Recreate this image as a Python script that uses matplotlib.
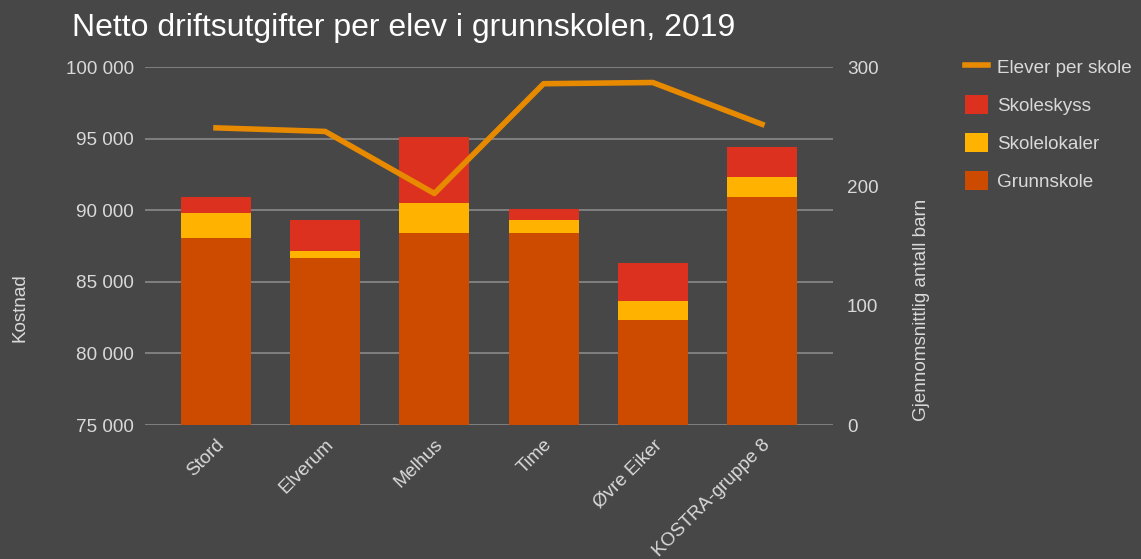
import matplotlib
matplotlib.use('Agg')
import matplotlib.pyplot as plt
import matplotlib.ticker as mticker
import numpy as np

plt.rcParams['font.family'] = ['Liberation Sans', 'DejaVu Sans']

# data
kommuner = ['Stord', 'Elverum', 'Melhus', 'Time', 'Øvre Eiker', 'KOSTRA-gruppe 8']
grunnskole = [88070, 86660, 88400, 88400, 82360, 90940]
skolelokaler = [1740, 470, 2120, 950, 1290, 1410]
skoleskyss = [1130, 2220, 4620, 700, 2630, 2080]
elever_per_skole = [249, 246, 194, 286, 287, 252]

bg = '#474747'
txt = '#d9d9d9'
c_grunn = '#cc4b00'
c_lokal = '#ffb300'
c_skyss = '#dc311e'
c_line = '#e88a00'
fs = 13.6

fig = plt.figure(figsize=(11.41, 5.59), dpi=100, facecolor=bg)
ax = fig.add_axes([145/1141, 1-425/559, (833-145)/1141, (425-67)/559])
ax.set_facecolor(bg)

x = np.arange(len(kommuner))
w = 0.64
g = np.array(grunnskole)
l = np.array(skolelokaler)
s = np.array(skoleskyss)
ax.bar(x, g, w, color=c_grunn, label='Grunnskole', zorder=2)
ax.bar(x, l, w, bottom=g, color=c_lokal, label='Skolelokaler', zorder=2)
ax.bar(x, s, w, bottom=g + l, color=c_skyss, label='Skoleskyss', zorder=2)

ax.set_ylim(75000, 100000)
ax.set_xlim(-0.65, len(kommuner) - 0.35)
ax.set_yticks(range(75000, 100001, 5000))
ax.yaxis.set_major_formatter(mticker.FuncFormatter(lambda v, p: f'{int(v):,}'.replace(',', ' ')))
ax.grid(axis='y', color='#8a8a8a', linewidth=1.2, zorder=0)
ax.set_xticks(x)
ax.set_xticklabels(kommuner, rotation=45, ha='right', rotation_mode='anchor', color=txt, fontsize=fs)
ax.tick_params(axis='y', colors=txt, labelsize=fs, length=0, pad=8)
ax.tick_params(axis='x', length=0, pad=8)
for sp in ax.spines.values():
    sp.set_visible(False)

ax2 = ax.twinx()
ax2.plot(x, elever_per_skole, color=c_line, linewidth=4, label='Elever per skole', zorder=3)
ax2.set_ylim(0, 300)
ax2.set_yticks([0, 100, 200, 300])
ax2.tick_params(axis='y', colors=txt, labelsize=fs, length=0, pad=10)
for sp in ax2.spines.values():
    sp.set_visible(False)

fig.text(20/1141, 1-308/559, 'Kostnad', color=txt, fontsize=fs, rotation=90, ha='center', va='center')
fig.text(921/1141, 1-310/559, 'Gjennomsnittlig antall barn', color=txt, fontsize=fs, rotation=90,
         ha='center', va='center')

h1, l1 = ax.get_legend_handles_labels()
h2, l2 = ax2.get_legend_handles_labels()
leg = fig.legend(h2 + h1[::-1], l2 + l1[::-1], loc='upper left', bbox_to_anchor=(948/1141, 1-40/559),
                 frameon=False, fontsize=13.6, labelcolor=txt, handlelength=1.2, handleheight=1.2,
                 labelspacing=0.95, handletextpad=0.5)

fig.text(72/1141, 1-28/559, 'Netto driftsutgifter per elev i grunnskolen, 2019', color='white',
         fontsize=23, va='center', ha='left')

fig.savefig('out.png', dpi=100, facecolor=bg)
